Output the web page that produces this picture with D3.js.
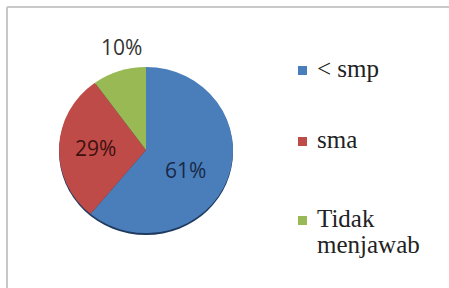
<!DOCTYPE html>
<html>
<head>
<meta charset="utf-8">
<script src="https://cdn.jsdelivr.net/npm/d3@7"></script>
<style>
  body { margin: 0; background: #fff; }
  .legend text { font-family: "Liberation Serif", "DejaVu Serif", "Noto Serif", "Times New Roman", Times, serif; }
</style>
</head>
<body>
<div class="chart-wrap"></div>
<script>
// data
const categories = ["< smp", "sma", "Tidak menjawab"];
const values = [61, 29, 10];
const legendLines = [["< smp"], ["sma"], ["Tidak", "menjawab"]];
const colors = ["#4a7ebb", "#be4b48", "#98b954"];
const labelColors = ["#172a48", "#3e100f", "#333333"];

const width = 449, height = 288;
const svg = d3
  .select(".chart-wrap")
  .append("svg")
  .attr("width", width)
  .attr("height", height);

// frame (top + left gray edge)
svg.append("line").attr("x1", 7).attr("y1", 7).attr("x2", 449).attr("y2", 7)
  .attr("stroke", "#c8c8c8").attr("stroke-width", 2);
svg.append("line").attr("x1", 7).attr("y1", 7).attr("x2", 7).attr("y2", 288)
  .attr("stroke", "#c8c8c8").attr("stroke-width", 2);

const cx = 146, cy = 150, r = 87, squash = 0.955;
const pie = d3.pie().sort(null).value(d => d);
const arcs = pie(values);
const arc = d3.arc().innerRadius(0).outerRadius(r);

const g = svg.append("g").attr("transform", `translate(${cx},${cy}) scale(1,${squash})`);

// dark rim under the pie
g.append("ellipse")
  .attr("cx", 0).attr("cy", 2)
  .attr("rx", r).attr("ry", r)
  .attr("fill", "#1f3a5f");

g.selectAll("path.slice")
  .data(arcs)
  .enter()
  .append("path")
  .attr("class", "slice")
  .attr("d", arc)
  .attr("fill", (d, i) => colors[i]);

// labels
const labelR = [0.52, 0.58, 1.24];
const lg = svg.append("g").attr("transform", `translate(${cx},${cy})`);
lg.selectAll("text.pct")
  .data(arcs)
  .enter()
  .append("text")
  .attr("class", "pct")
  .attr("transform", (d, i) => {
    const a = d3.arc().innerRadius(r * labelR[i]).outerRadius(r * labelR[i]);
    const p = a.centroid(d);
    return `translate(${p[0] + (i === 0 ? -3 : i === 2 ? 9 : 0)},${p[1] * squash + (i === 0 ? 6 : i === 2 ? -4 : 0)})`;
  })
  .attr("text-anchor", "middle")
  .attr("dy", "0.35em")
  .style("font-family", "Open Sans, Liberation Sans, sans-serif")
  .attr("font-size", 21)
  .attr("fill", (d, i) => labelColors[i])
  .text(d => d.data + "%");

// legend
const legendY = d3.scaleOrdinal().domain(categories).range([77, 148, 227]);
const legend = svg.selectAll("g.legend")
  .data(categories)
  .enter()
  .append("g")
  .attr("class", "legend")
  .attr("transform", d => `translate(298,${legendY(d)})`);

legend.append("rect")
  .attr("x", 0).attr("y", -11)
  .attr("width", 9).attr("height", 9)
  .attr("fill", (d, i) => colors[i]);

legend.append("text")
  .attr("x", 19)
  .attr("y", 0)
  .attr("font-size", 25)
  .attr("fill", "#222")
  .selectAll("tspan")
  .data((d, i) => legendLines[i])
  .enter()
  .append("tspan")
  .attr("x", 19)
  .attr("dy", (d, i) => i === 0 ? 0 : 26)
  .text(d => d);
</script>
</body>
</html>
